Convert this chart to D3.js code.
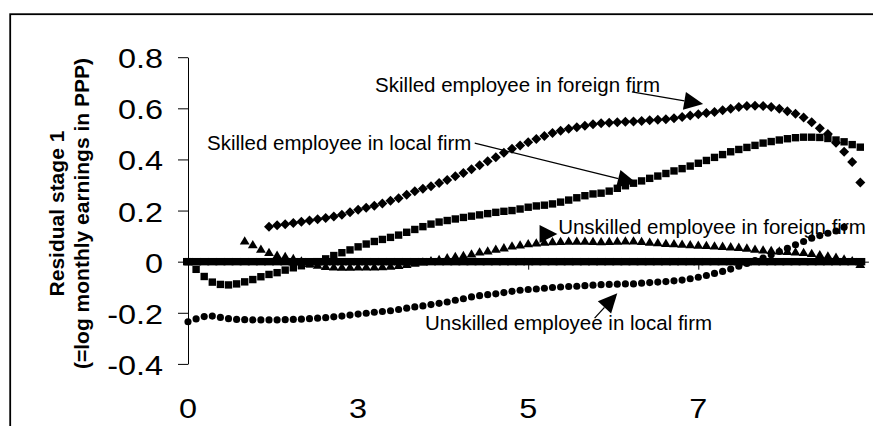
<!DOCTYPE html>
<html><head><meta charset="utf-8">
<script src="https://cdn.jsdelivr.net/npm/d3@7"></script>
<style>
body{margin:0;background:#fff}
svg{display:block}
text{font-family:"Liberation Sans",Arial,Helvetica,sans-serif;fill:#000}
</style>
</head><body>
<svg id="chart" width="873" height="426"></svg>
<script>
// ---- data ----
const nCategories = 84;                 // category positions 0..83 on the x axis
const xTickIndex  = [0, 21, 42, 63];
const xTickLabels = ["0", "3", "5", "7"];
const yTicks      = [-0.4, -0.2, 0, 0.2, 0.4, 0.6, 0.8];
const yTickLabels = ["-0.4", "-0.2", "0", "0.2", "0.4", "0.6", "0.8"];

const skilledForeignStart = 10;
const skilledForeign = [
  0.137,0.142,0.146,0.151,0.156,0.161,0.166,0.171,0.177,0.184,
  0.193,0.203,0.211,0.219,0.228,0.238,0.248,0.262,0.276,0.285,
  0.295,0.308,0.320,0.334,0.347,0.362,0.377,0.393,0.409,0.426,
  0.442,0.455,0.467,0.480,0.492,0.503,0.512,0.520,0.526,0.532,
  0.538,0.542,0.544,0.545,0.547,0.548,0.550,0.553,0.555,0.557,
  0.561,0.566,0.572,0.577,0.582,0.586,0.592,0.598,0.605,0.609,
  0.610,0.609,0.605,0.598,0.589,0.579,0.564,0.545,0.522,0.500,
  0.465,0.430,0.390,0.310];

const skilledLocalStart = 0;
const skilledLocal = [
  0.000,-0.030,-0.058,-0.080,-0.089,-0.091,-0.087,-0.079,-0.070,-0.059,
  -0.050,-0.043,-0.033,-0.024,-0.016,-0.009,0.000,0.011,0.024,0.035,
  0.046,0.058,0.069,0.079,0.087,0.095,0.104,0.115,0.126,0.137,
  0.147,0.155,0.161,0.167,0.173,0.178,0.183,0.188,0.193,0.197,
  0.200,0.206,0.213,0.218,0.221,0.226,0.233,0.241,0.250,0.258,
  0.265,0.268,0.276,0.287,0.297,0.307,0.316,0.326,0.335,0.345,
  0.355,0.364,0.374,0.385,0.396,0.408,0.419,0.430,0.439,0.447,
  0.455,0.464,0.470,0.476,0.481,0.485,0.487,0.487,0.486,0.482,
  0.476,0.469,0.458,0.448];

const unskilledForeignStart = 7;
const unskilledForeign = [
  0.082,0.067,0.050,
  0.037,0.026,0.021,0.013,0.004,-0.006,-0.013,-0.018,-0.020,-0.021,
  -0.021,-0.020,-0.020,-0.020,-0.019,-0.017,-0.014,-0.010,-0.005,0.000,
  0.005,0.009,0.016,0.021,0.025,0.031,0.039,0.043,0.050,0.055,
  0.062,0.066,0.071,0.074,0.077,0.079,0.080,0.081,0.081,0.081,
  0.080,0.079,0.080,0.081,0.082,0.082,0.080,0.077,0.075,0.072,
  0.071,0.069,0.067,0.065,0.064,0.062,0.061,0.059,0.057,0.054,
  0.050,0.047,0.045,0.043,0.041,0.039,0.037,0.033,0.028,0.023,
  0.018,0.011,0.005,-0.010];

const unskilledLocalStart = 0;
const unskilledLocal = [
  -0.235,-0.224,-0.215,-0.213,-0.218,-0.223,-0.226,-0.227,-0.228,-0.228,
  -0.228,-0.228,-0.227,-0.226,-0.225,-0.223,-0.221,-0.219,-0.216,-0.213,
  -0.209,-0.205,-0.202,-0.198,-0.195,-0.192,-0.187,-0.182,-0.177,-0.173,
  -0.168,-0.163,-0.158,-0.151,-0.145,-0.138,-0.133,-0.129,-0.126,-0.121,
  -0.116,-0.112,-0.109,-0.107,-0.104,-0.101,-0.099,-0.097,-0.096,-0.094,
  -0.092,-0.090,-0.089,-0.088,-0.087,-0.087,-0.084,-0.082,-0.080,-0.078,
  -0.075,-0.072,-0.067,-0.061,-0.054,-0.046,-0.038,-0.029,-0.018,-0.007,
  0.004,0.014,0.027,0.040,0.052,0.066,0.079,0.092,0.102,0.111,
  0.120,0.135];

const referenceStart = 0;
const reference = [
  0,0,0,0,0,0,0,0,0,0, 0,0,0,0,0,0,0,0,0,0,
  0,0,0,0,0,0,0,0,0,0, 0,0,0,0,0,0,0,0,0,0,
  0,0,0,0,0,0,0,0,0,0, 0,0,0,0,0,0,0,0,0,0,
  0,0,0,0,0,0,0,0,0,0, 0,0,0,0,0,0,0,0,0,0,
  0,0,0,0];

// annotations: label anchor (category, value) and arrow from -> tip
const annoLabels = ["Skilled employee in foreign firm", "Skilled employee in local firm",
                    "Unskilled employee in foreign firm", "Unskilled employee in local firm"];
const annoTextX  = [23.1, 2.35, 45.7, 29.25];
const annoTextY  = [0.663, 0.435, 0.110, -0.267];
const arrowFromX = [54.8, 35.4, 43.4, 50.2];
const arrowFromY = [0.664, 0.464, 0.108, -0.221];
const arrowToX   = [63.6, 55.4, 45.6, 53.0];
const arrowToY   = [0.617, 0.307, 0.108, -0.124];

const yTitle1 = "Residual stage 1";
const yTitle2 = "(=log monthly earnings in PPP)";

// ---- drawing ----
const svg = d3.select("#chart");
const x = d3.scaleLinear().domain([0, nCategories]).range([188, 868.4]);
const y = d3.scaleLinear().domain([-0.4, 0.8]).range([363.9, 57.2]);

// outer chart border
svg.append("rect").attr("x", 10.2).attr("y", 14.2).attr("width", 900).attr("height", 500)
  .attr("fill", "none").attr("stroke", "#000").attr("stroke-width", 1.8);

// y axis
const gy = svg.append("g").attr("transform", `translate(${x(0)},0)`)
  .call(d3.axisLeft(y).tickValues(yTicks).tickSize(10).tickSizeOuter(0).tickFormat(""));
gy.selectAll("path,line").attr("stroke", "#000").attr("stroke-width", 1);

// y tick labels (stretched horizontally like the original)
yTicks.forEach((v, i) => {
  svg.append("g").attr("transform", `translate(163,${y(v) + 11}) scale(1.2,1)`)
    .append("text").attr("text-anchor", "end").attr("font-size", 27).text(yTickLabels[i]);
});

// x tick labels
xTickIndex.forEach((c, i) => {
  svg.append("g").attr("transform", `translate(${x(c)},418) scale(1.2,1)`)
    .append("text").attr("text-anchor", "middle").attr("font-size", 27).text(xTickLabels[i]);
});

// y title
const tg = svg.append("g").attr("transform", `translate(0,${(y(-0.4) + y(0.8)) / 2 + 3}) rotate(-90)`);
tg.append("text").attr("x", 0).attr("y", 63.5).attr("text-anchor", "middle")
  .attr("font-size", 21).attr("font-weight", "bold").text(yTitle1);
tg.append("text").attr("x", 0).attr("y", 88.5).attr("text-anchor", "middle")
  .attr("font-size", 21).attr("font-weight", "bold").text(yTitle2);

function pts(start, vals) { return vals.map((v, i) => ({c: start + i, v})); }

const marks = svg.append("g");
function drawSeries(data, shape) {
  marks.append("g").selectAll("path").data(data).join("path")
    .attr("transform", d => `translate(${x(d.c)},${y(d.v)})`)
    .attr("d", shape).attr("fill", "#000");
}
const triShape = "M0,-4.5L4.9,3.8L-4.9,3.8Z";
const sqShape = "M-3.7,-3.7H3.7V3.7H-3.7Z";
const diaShape = "M0,-5L5,0L0,5L-5,0Z";
const bandShape = "M-5,-3.7H5V3.7H-5Z";
const circShape = d3.symbol(d3.symbolCircle, 40)();

drawSeries(pts(unskilledForeignStart, unskilledForeign), triShape);

// x axis (at zero)
const gx = svg.append("g").attr("transform", `translate(0,${y(0)})`)
  .call(d3.axisBottom(x).tickValues(xTickIndex.slice(1)).tickSize(8).tickSizeOuter(0).tickFormat(""));
gx.selectAll("path,line").attr("stroke", "#000").attr("stroke-width", 1);

drawSeries(pts(referenceStart, reference), bandShape);
drawSeries(pts(skilledLocalStart, skilledLocal), sqShape);
drawSeries(pts(skilledForeignStart, skilledForeign), diaShape);
drawSeries(pts(unskilledLocalStart, unskilledLocal), circShape);

// annotations
annoLabels.forEach((t, i) => {
  svg.append("text").attr("x", x(annoTextX[i])).attr("y", y(annoTextY[i]))
    .attr("font-size", 20.5).text(t);
});
annoLabels.forEach((t, i) => {
  const x1 = x(arrowFromX[i]), y1 = y(arrowFromY[i]);
  const x2 = x(arrowToX[i]), y2 = y(arrowToY[i]);
  const dx = x2 - x1, dy = y2 - y1, len = Math.hypot(dx, dy);
  const ux = dx / len, uy = dy / len, nx = -uy, ny = ux;
  const L = Math.min(19, len), W = 9;
  const bx = x2 - ux * L, by = y2 - uy * L;
  if (len > L) {
    svg.append("line").attr("x1", x1).attr("y1", y1).attr("x2", bx).attr("y2", by)
      .attr("stroke", "#000").attr("stroke-width", 1.3);
  }
  svg.append("path")
    .attr("d", `M${x2},${y2}L${bx + nx * W},${by + ny * W}L${bx - nx * W},${by - ny * W}Z`)
    .attr("fill", "#000");
});
</script>
</body></html>
